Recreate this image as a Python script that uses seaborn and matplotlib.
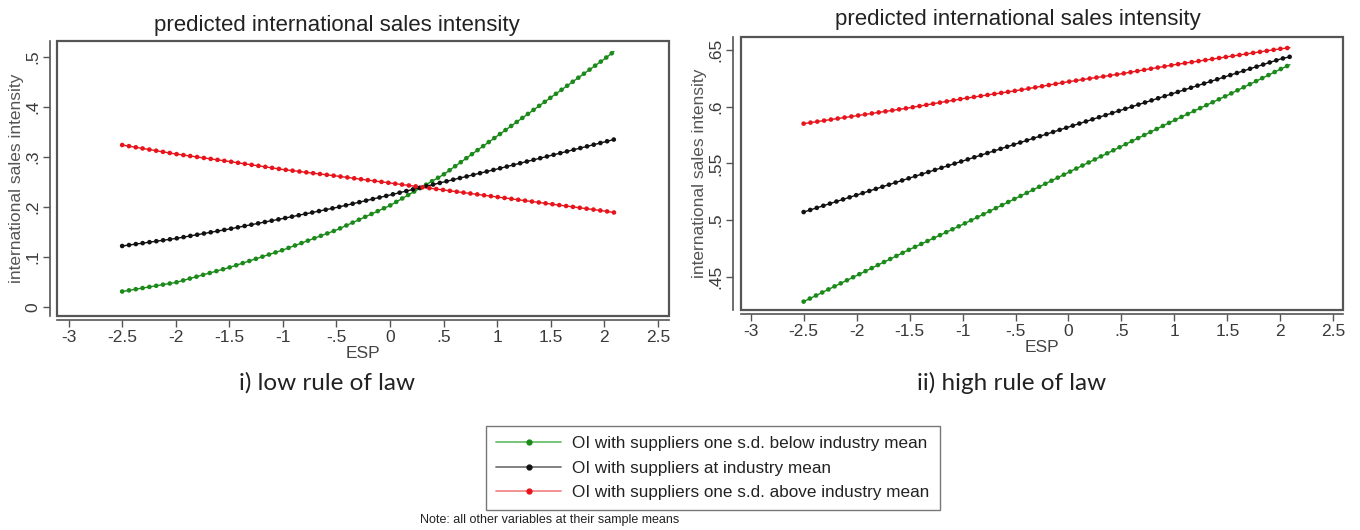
import numpy as np
import pandas as pd
import matplotlib
matplotlib.use('Agg')
import matplotlib.pyplot as plt
from matplotlib.lines import Line2D
from matplotlib.patches import Rectangle
import seaborn as sns

# values
esp = [-2.5, -2, -1.5, -1, -0.5, 0, 0.5, 1, 1.5, 2, 2.09]

low_below = [0.031, 0.049, 0.079, 0.114, 0.154, 0.203, 0.265, 0.342, 0.419, 0.496, 0.511]
low_mean = [0.122, 0.137, 0.156, 0.177, 0.199, 0.224, 0.250, 0.276, 0.303, 0.330, 0.335]
low_above = [0.324, 0.306, 0.291, 0.275, 0.262, 0.248, 0.234, 0.220, 0.206, 0.192, 0.189]

high_below = [0.428, 0.451, 0.474, 0.496, 0.519, 0.542, 0.565, 0.588, 0.610, 0.633, 0.637]
high_mean = [0.507, 0.522, 0.537, 0.552, 0.567, 0.582, 0.597, 0.612, 0.627, 0.642, 0.644]
high_above = [0.585, 0.592, 0.599, 0.607, 0.614, 0.622, 0.629, 0.637, 0.644, 0.651, 0.652]

groups = ['OI with suppliers one s.d. below industry mean',
          'OI with suppliers at industry mean',
          'OI with suppliers one s.d. above industry mean']

x_ticks = [-3, -2.5, -2, -1.5, -1, -0.5, 0, 0.5, 1, 1.5, 2, 2.5]
x_labels = ['-3', '-2.5', '-2', '-1.5', '-1', '-.5', '0', '.5', '1', '1.5', '2', '2.5']
low_yticks = [0, 0.1, 0.2, 0.3, 0.4, 0.5]
low_ylabels = ['0', '.1', '.2', '.3', '.4', '.5']
high_yticks = [0.45, 0.5, 0.55, 0.6, 0.65]
high_ylabels = ['.45', '.5', '.55', '.6', '.65']

dot_colors = ['#1b8a1b', '#111111', '#e8141c']
line_colors = ['#6cbf6c', '#777777', '#f28a8a']

sns.set_style('white')
plt.rcParams['font.family'] = ['Liberation Sans', 'DejaVu Sans']


def make_df(below, mean, above):
    return pd.DataFrame({
        'ESP': esp * 3,
        'val': below + mean + above,
        'group': [groups[0]] * len(esp) + [groups[1]] * len(esp) + [groups[2]] * len(esp),
    })


def draw_panel(ax, df, ylim, xlim, yticks, ylabels, left_off):
    pal_dot = dict(zip(groups, dot_colors))
    sns.lineplot(data=df, x='ESP', y='val', hue='group', palette=pal_dot,
                 linewidth=1.0, legend=False, ax=ax)
    sns.lineplot(data=df, x='ESP', y='val', hue='group', palette=pal_dot,
                 linewidth=3.4, linestyle=(0, (0.01, 1.45)),
                 dash_capstyle='round', legend=False, ax=ax)
    ax.set_xlim(*xlim)
    ax.set_ylim(*ylim)
    ax.set_xticks(x_ticks, x_labels)
    ax.set_yticks(yticks, ylabels)
    for s in ['top', 'right']:
        ax.spines[s].set_visible(False)
    ax.spines['left'].set_position(('outward', left_off))
    ax.spines['bottom'].set_position(('outward', 3))
    for s in ['left', 'bottom']:
        ax.spines[s].set_color('#555555')
        ax.spines[s].set_linewidth(1.2)
    ax.add_patch(Rectangle((0, 0), 1, 1, transform=ax.transAxes, fill=False,
                           ec='#555555', lw=1.6, clip_on=False))
    ax.tick_params(bottom=True, left=True, direction='out', length=5, width=1,
                   color='#555555', labelsize=12.5, labelcolor='#3a3a3a', pad=2)
    ax.tick_params(axis='y', labelrotation=90)
    for t in ax.get_yticklabels():
        t.set_va('center')
    ax.set_xlabel('ESP', fontsize=12.5, color='#444444', labelpad=1)
    ax.set_ylabel('international sales intensity', fontsize=12.5, color='#555555', labelpad=1)


fig = plt.figure(figsize=(13.6, 5.3), dpi=100)
ax1 = fig.add_axes([57 / 1360, 1 - 316 / 530, 612 / 1360, 274.5 / 530])
ax2 = fig.add_axes([740.7 / 1360, 1 - 310 / 530, 602.6 / 1360, 273.3 / 530])

draw_panel(ax1, make_df(low_below, low_mean, low_above), (-0.018, 0.531), (-3.108, 2.603),
           low_yticks, low_ylabels, 5)
draw_panel(ax2, make_df(high_below, high_mean, high_above), (0.4206, 0.6617), (-3.094, 2.594),
           high_yticks, high_ylabels, 5.5)

fig.text(337 / 1360, 1 - 25 / 530, 'predicted international sales intensity',
         ha='center', va='center', fontsize=16, color='#222222')
fig.text(1018 / 1360, 1 - 20 / 530, 'predicted international sales intensity',
         ha='center', va='center', fontsize=16, color='#222222')

fig.text(327 / 1360, 1 - 383 / 530, 'i) low rule of law', ha='center', va='center',
         fontsize=17.5, color='#222222', family=['Lato', 'DejaVu Sans'])
fig.text(1012 / 1360, 1 - 383 / 530, 'ii) high rule of law', ha='center', va='center',
         fontsize=17.5, color='#222222', family=['Lato', 'DejaVu Sans'])

handles = [Line2D([0], [0], color=line_colors[i], lw=1.3, marker='o', markersize=3.5,
                  markerfacecolor=dot_colors[i], markeredgecolor=dot_colors[i])
           for i in range(3)]
leg = fig.legend(handles, groups, loc='upper left', bbox_to_anchor=(486 / 1360, 1 - 426 / 530),
                 frameon=True, fancybox=False, edgecolor='#555555', fontsize=12.3,
                 handlelength=3.8, numpoints=1, labelspacing=0.55, borderpad=0.6,
                 handletextpad=0.65, borderaxespad=0)
leg.get_frame().set_linewidth(1.0)
for t in leg.get_texts():
    t.set_color('#222222')

fig.text(420 / 1360, 1 - 520 / 530, 'Note: all other variables at their sample means',
         ha='left', va='center', fontsize=9, color='#222222')

fig.savefig('out.png', dpi=100)
